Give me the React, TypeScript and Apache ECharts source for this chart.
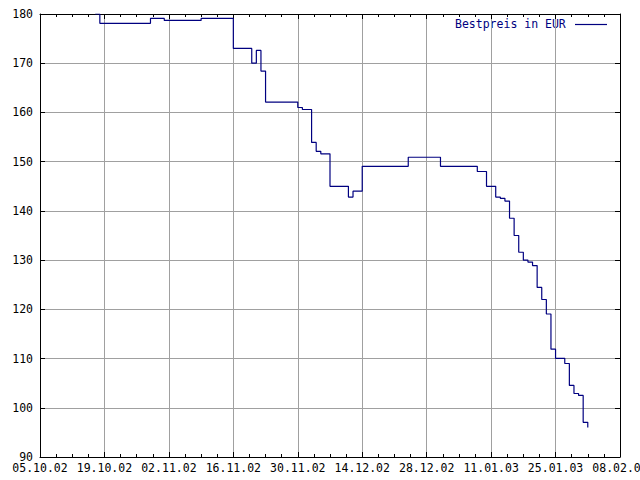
import React, { useEffect, useRef } from "react";
import * as echarts from "echarts";

const dates = ['17.10.02','18.10.02','29.10.02','01.11.02','09.11.02','16.11.02','20.11.02','21.11.02','22.11.02','23.11.02','30.11.02','01.12.02','03.12.02','04.12.02','05.12.02','07.12.02','11.12.02','12.12.02','14.12.02','24.12.02','31.12.02','08.01.03','10.01.03','12.01.03','13.01.03','14.01.03','15.01.03','16.01.03','17.01.03','18.01.03','19.01.03','20.01.03','21.01.03','22.01.03','23.01.03','24.01.03','25.01.03','27.01.03','28.01.03','29.01.03','30.01.03','31.01.03','01.02.03'];
const prices = [180,178.1,179.1,178.7,179.1,173,170,172.6,168.4,162.1,161,160.6,153.9,152.1,151.6,145,142.8,144,149.05,150.9,149.05,148,145,142.8,142.55,142,138.5,135,131.6,130,129.6,128.9,124.45,122,119.05,111.9,110.05,109,104.55,102.9,102.5,97.05,96];
const axisStart = '05.10.02';
const axisEnd = '08.02.03';
const seriesName = 'Bestpreis in EUR';

const DAY = 86400000;
const parse = (s: string) => {
  const [d, m, y] = s.split('.').map(Number);
  return Date.UTC(2000 + y, m - 1, d);
};
const base = parse(axisStart);
const toDay = (s: string) => (parse(s) - base) / DAY;
const pad = (n: number) => (n < 10 ? '0' : '') + n;
const fmt = (v: number) => {
  const d = new Date(base + Math.round(v) * DAY);
  return pad(d.getUTCDate()) + '.' + pad(d.getUTCMonth() + 1) + '.' + pad(d.getUTCFullYear() % 100);
};

const FONT = "'DejaVu Sans Mono', monospace";
const NAVY = '#000080';

export default function App() {
  const ref = useRef<HTMLDivElement>(null);
  useEffect(() => {
    if (!ref.current) return;
    const chart = echarts.init(ref.current, null, { renderer: 'svg' });
    const xMax = toDay(axisEnd);
    const common = { type: 'value' as const, min: 0, max: xMax, interval: 14 };
    chart.setOption({
      animation: false,
      backgroundColor: '#ffffff',
      grid: { left: 40, right: 20, top: 14, bottom: 23, containLabel: false, outerBoundsMode: 'none' },
      xAxis: [
        {
          ...common,
          position: 'bottom',
          axisLine: { show: true, onZero: false, lineStyle: { color: '#000', width: 1 } },
          axisTick: { show: true, inside: true, length: 5, lineStyle: { color: '#000' } },
          minorTick: { show: true, splitNumber: 4, length: 3, lineStyle: { color: '#000' } },
          axisLabel: { formatter: (v: number) => fmt(v), fontFamily: FONT, fontSize: 11.5, lineHeight: 10, color: '#000', margin: 6, showMaxLabel: true, showMinLabel: true, hideOverlap: false },
          splitLine: { show: true, lineStyle: { color: '#a0a0a0', width: 1 } },
        },
        {
          ...common,
          position: 'top',
          axisLine: { show: true, onZero: false, lineStyle: { color: '#000', width: 1 } },
          axisTick: { show: true, inside: true, length: 5, lineStyle: { color: '#000' } },
          minorTick: { show: true, splitNumber: 4, length: 3, lineStyle: { color: '#000' } },
          axisLabel: { show: false },
          splitLine: { show: false },
        },
      ],
      yAxis: [
        {
          type: 'value', min: 90, max: 180, interval: 10,
          position: 'left',
          axisLine: { show: true, onZero: false, lineStyle: { color: '#000', width: 1 } },
          axisTick: { show: true, inside: true, length: 5, lineStyle: { color: '#000' } },
          axisLabel: { fontFamily: FONT, fontSize: 11.5, lineHeight: 10, color: '#000', margin: 7 },
          splitLine: { show: true, lineStyle: { color: '#a0a0a0', width: 1 } },
        },
        {
          type: 'value', min: 90, max: 180, interval: 10,
          position: 'right',
          axisLine: { show: true, onZero: false, lineStyle: { color: '#000', width: 1 } },
          axisTick: { show: true, inside: true, length: 5, lineStyle: { color: '#000' } },
          axisLabel: { show: false },
          splitLine: { show: false },
        },
      ],
      series: [
        {
          name: seriesName,
          type: 'line',
          step: 'end',
          xAxisIndex: 0,
          yAxisIndex: 0,
          showSymbol: false,
          symbol: 'none',
          clip: true,
          lineStyle: { color: NAVY, width: 1.2 },
          data: dates.map((d, i) => [toDay(d), prices[i]]),
        },
      ],
      graphic: [
        {
          type: 'text',
          left: 455,
          top: 18,
          style: { text: seriesName, fill: NAVY, font: `11.5px ${FONT}` },
        },
        {
          type: 'line',
          shape: { x1: 575, y1: 24.5, x2: 607, y2: 24.5 },
          style: { stroke: NAVY, lineWidth: 1.2 },
        },
      ],
    });
    return () => chart.dispose();
  }, []);
  return (
    <div
      ref={ref}
      style={{ position: 'fixed', left: 0, top: 0, width: 640, height: 480, background: '#fff' }}
    />
  );
}
